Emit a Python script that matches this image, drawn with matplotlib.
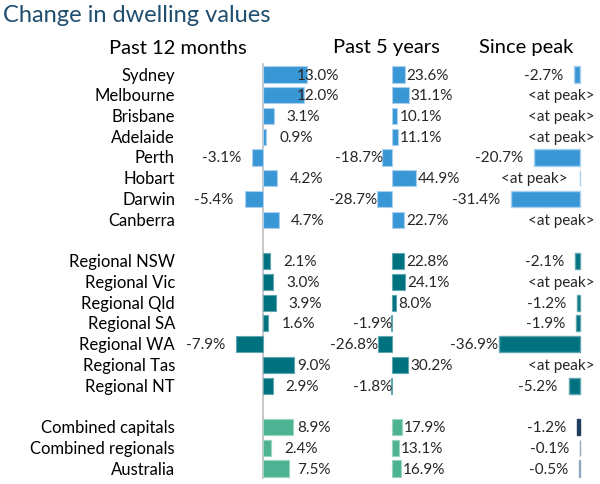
import matplotlib
matplotlib.use("Agg")
import matplotlib.pyplot as plt

plt.rcParams['font.family'] = ['Lato', 'DejaVu Sans']

capitals = ['Sydney', 'Melbourne', 'Brisbane', 'Adelaide', 'Perth', 'Hobart', 'Darwin', 'Canberra']
regionals = ['Regional NSW', 'Regional Vic', 'Regional Qld', 'Regional SA', 'Regional WA',
             'Regional Tas', 'Regional NT']
combined = ['Combined capitals', 'Combined regionals', 'Australia']

# past 12 months (%)
m12_cap = [13.0, 12.0, 3.1, 0.9, -3.1, 4.2, -5.4, 4.7]
m12_reg = [2.1, 3.0, 3.9, 1.6, -7.9, 9.0, 2.9]
m12_comb = [8.9, 2.4, 7.5]

# past 5 years (%)
y5_cap = [23.6, 31.1, 10.1, 11.1, -18.7, 44.9, -28.7, 22.7]
y5_reg = [22.8, 24.1, 8.0, -1.9, -26.8, 30.2, -1.8]
y5_comb = [17.9, 13.1, 16.9]

# since peak (%), None = at peak
pk_cap = [-2.7, None, None, None, -20.7, 0.0, -31.4, None]
pk_reg = [-2.1, None, -1.2, -1.9, -36.9, None, -5.2]
pk_comb = [-1.2, -0.1, -0.5]

col_cap = '#3A97D6'
col_reg = '#00717E'
col_comb = '#4DB393'
edge_cap = '#A9D0EE'
edge_reg = '#5FA7B0'
edge_comb = '#9AD5C2'
pk_comb_cols = ['#1F3D5C', '#8FA8BF', '#8FA8BF']

W, H = 600, 485
fig = plt.figure(figsize=(6, 4.85), dpi=100)

# row positions with a blank row between groups
pos = list(range(0, 8)) + list(range(9, 16)) + list(range(17, 20))
names = capitals + regionals + combined
m12 = m12_cap + m12_reg + m12_comb
y5 = y5_cap + y5_reg + y5_comb
pk = pk_cap + pk_reg + pk_comb
cols = [col_cap] * 8 + [col_reg] * 7 + [col_comb] * 3
edges = [edge_cap] * 8 + [edge_reg] * 7 + [edge_comb] * 3

row0, row_h = 75.5, 20.74


def make_axes(zero_px, px_per):
    ax = fig.add_axes([0, 0, 1, 1])
    ax.set_xlim(-zero_px / px_per, (W - zero_px) / px_per)
    ax.set_ylim((H - row0) / row_h, -row0 / row_h)
    ax.axis('off')
    ax.patch.set_alpha(0)
    return ax


PT = 0.72  # points per pixel at dpi 100
fs_val = 11

# ---- past 12 months ----
s1 = 3.4
ax1 = make_axes(263, s1)
ax1.plot([0, 0], [-0.53, 19.47], color='#BFBFBF', lw=1.2, zorder=1)
ax1.barh(pos, m12, height=0.78, color=cols, edgecolor=edges, linewidth=0.8, zorder=2)
for p, v in zip(pos, m12):
    if v >= 0:
        off = min(14 + 3 * v, 34)
        ax1.annotate(f'{v:.1f}%', (0, p), xytext=(off * PT, 0), textcoords='offset points',
                     ha='left', va='center', fontsize=fs_val, color='#262626', zorder=3)
    else:
        ax1.annotate(f'{v:.1f}%', (v, p), xytext=(-11 * PT, 0), textcoords='offset points',
                     ha='right', va='center', fontsize=fs_val, color='#262626', zorder=3)
for p, n in zip(pos, names):
    ax1.annotate(n, (0, p), xytext=((175 - 263) * PT, 0), textcoords='offset points',
                 ha='right', va='center', fontsize=12, color='black')

# ---- past 5 years ----
s2 = 0.54
ax2 = make_axes(392, s2)
ax2.barh(pos, y5, height=0.78, color=cols, edgecolor=edges, linewidth=0.8, zorder=2)
for p, v in zip(pos, y5):
    if v >= 0:
        ax2.annotate(f'{v:.1f}%', (v, p), xytext=(2 * PT, 0), textcoords='offset points',
                     ha='left', va='center', fontsize=fs_val, color='#262626', zorder=3)
    else:
        ax2.annotate(f'{v:.1f}%', (v, p), xytext=(1 * PT, 0), textcoords='offset points',
                     ha='right', va='center', fontsize=fs_val, color='#262626', zorder=3)

# ---- since peak ----
s3 = 2.2
zero3 = 580
ax3 = make_axes(zero3, s3)
pk_cols = cols[:15] + pk_comb_cols
pk_edges = edges[:15] + pk_comb_cols
for p, v, c, e in zip(pos, pk, pk_cols, pk_edges):
    if v is None:
        ax3.annotate('<at peak>', (0, p), xytext=(15 * PT, 0), textcoords='offset points',
                     ha='right', va='center', fontsize=fs_val, color='#262626')
        continue
    ax3.barh(p, v, height=0.78, color=c, edgecolor=e, linewidth=1.0, zorder=2)
    if v == 0:
        ax3.annotate('<at peak>', (0, p), xytext=(-12 * PT, 0), textcoords='offset points',
                     ha='right', va='center', fontsize=fs_val, color='#262626')
    else:
        right_px = max(zero3 + v * s3 - 11, 498)
        ax3.annotate(f'{v:.1f}%', (0, p), xytext=((right_px - zero3) * PT, 0),
                     textcoords='offset points', ha='right', va='center',
                     fontsize=fs_val, color='#262626', zorder=3)

# headers and title
fig.text(3 / W, 1 - 15 / H, 'Change in dwelling values', ha='left', va='center',
         fontsize=17, color='#1F4E6E')
fig.text(178 / W, 1 - 48 / H, 'Past 12 months', ha='center', va='center', fontsize=14.5, color='black')
fig.text(386 / W, 1 - 48 / H, 'Past 5 years', ha='center', va='center', fontsize=14.5, color='black')
fig.text(526 / W, 1 - 48 / H, 'Since peak', ha='center', va='center', fontsize=14.5, color='black')

fig.savefig('out.png', dpi=100)
